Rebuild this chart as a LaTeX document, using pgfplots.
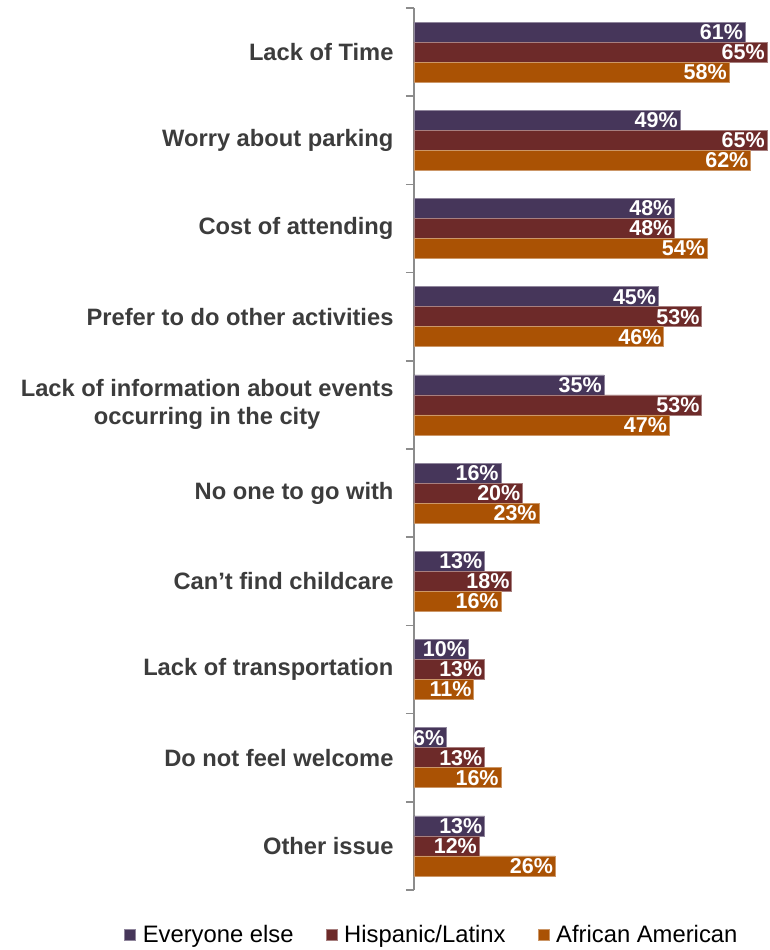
\documentclass[border=0pt]{standalone}
\usepackage{pgfplots}
\pgfplotsset{compat=1.18}
\usepackage{fontspec}
\setmainfont{Liberation Sans}
\definecolor{cEv}{HTML}{46365A}
\definecolor{cHi}{HTML}{6D2A29}
\definecolor{cAf}{HTML}{AA5204}
\definecolor{lab}{HTML}{3C3C3C}
\definecolor{axg}{HTML}{8C8C8C}
\begin{document}
\begin{tikzpicture}
\begin{axis}[
  at={(0,0)}, anchor=south west,
  scale only axis, width=356pt, height=882pt,
  xbar, bar width=20pt,
  xmin=0, xmax=65.56,
  ymin=-0.5, ymax=9.5, y dir=reverse,
  hide x axis,
  axis y line*=left,
  axis line style={-, draw=axg, line width=1.5pt},
  ytick={0,1,2,3,4,5,6,7,8,9},
  yticklabels={Lack of Time, Worry about parking, Cost of attending, Prefer to do other activities, {Lack of information about events\\occurring in the city}, No one to go with, Can’t find childcare, Lack of transportation, Do not feel welcome, Other issue},
  major tick length=0pt,
  yticklabel style={font=\bfseries\fontsize{23.7}{28}\selectfont, text=lab, align=center, xshift=-17pt},
  extra y ticks={-0.5,0.5,1.5,2.5,3.5,4.5,5.5,6.5,7.5,8.5,9.5},
  extra y tick labels={},
  extra y tick style={major tick length=8pt, tick align=outside, tick style={draw=axg, line width=1.5pt}},
  point meta=x,
  /pgf/number format/assume math mode=true,
  nodes near coords={\pgfmathprintnumber{\pgfplotspointmeta}\%},
  every node near coord/.append style={anchor=east, text=white, font=\bfseries\fontsize{21.5}{24}\selectfont, xshift=-1pt, inner sep=1pt},
  legend columns=3,
  legend cell align=left,
  legend style={at={(-0.823,-0.0505)}, anchor=west, draw=none, fill=none, font=\fontsize{23.8}{26}\selectfont, /tikz/every odd column/.append style={column sep=5pt}, /tikz/every even column/.append style={column sep=30pt}},
  legend image code/.code={\fill[#1] (0pt,-5.5pt) rectangle (11pt,5.5pt);},
]
\addplot[fill=cEv, draw=cEv!60!white, line width=0.6pt, bar shift=20pt] coordinates {(61,0) (49,1) (48,2) (45,3) (35,4) (16,5) (13,6) (10,7) (6,8) (13,9)};
\addplot[fill=cHi, draw=cHi!60!white, line width=0.6pt, bar shift=0pt] coordinates {(65,0) (65,1) (48,2) (53,3) (53,4) (20,5) (18,6) (13,7) (13,8) (12,9)};
\addplot[fill=cAf, draw=cAf!60!white, line width=0.6pt, bar shift=-20pt] coordinates {(58,0) (62,1) (54,2) (46,3) (47,4) (23,5) (16,6) (11,7) (16,8) (26,9)};
\legend{Everyone else, Hispanic/Latinx, African American}
\end{axis}
\pgfresetboundingbox
\path[use as bounding box] (-414pt,-60pt) rectangle (356pt,890pt);
\end{tikzpicture}
\end{document}
